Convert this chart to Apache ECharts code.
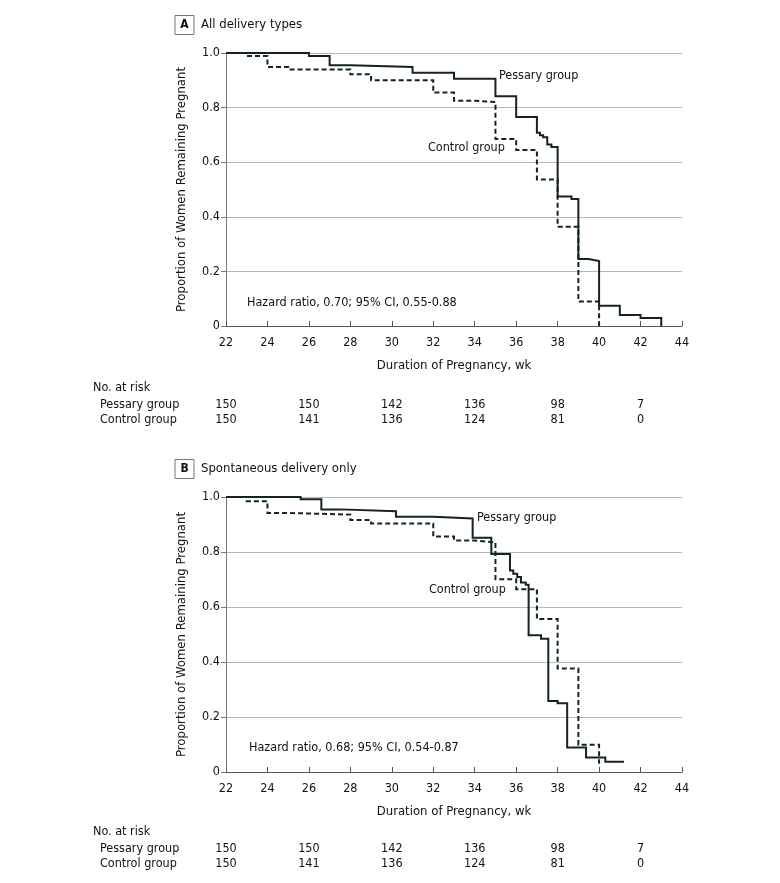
<!DOCTYPE html>
<html>
<head>
<meta charset="utf-8">
<script src="https://cdn.jsdelivr.net/npm/echarts@6/dist/echarts.min.js"></script>
<style>
html,body{margin:0;padding:0;background:#fff;}
#chart{width:780px;height:883px;}
</style>
</head>
<body>
<div id="chart"></div>
<script>
// ---- Data ----
const xTicks = [22,24,26,28,30,32,34,36,38,40,42,44];
const yTicks = [0,0.2,0.4,0.6,0.8,1.0];

// Panel A: All delivery types
const pessaryA_wk = [22,26,27,28,31,33,35,36,37,37.15,37.3,37.5,37.7,38,38.67,39,39.5,40,41,42,43];
const pessaryA_s  = [1,0.989,0.955,0.949,0.928,0.906,0.842,0.766,0.708,0.699,0.691,0.665,0.656,0.474,0.465,0.245,0.238,0.074,0.04,0.029,0];
const controlA_wk = [22,23,24,25,28,29,32,33,34,35,36,37,38,39,40];
const controlA_s  = [1,0.989,0.949,0.94,0.922,0.9,0.855,0.825,0.82,0.685,0.645,0.537,0.364,0.09,0];

// Panel B: Spontaneous delivery only
const pessaryB_wk = [22,25.6,26.6,27.5,30.2,32,33.9,34.8,35.7,35.86,36.05,36.23,36.46,36.6,37.2,37.55,38,38.46,39.37,40.3,41.2];
const pessaryB_s  = [1,0.992,0.955,0.948,0.928,0.922,0.852,0.793,0.733,0.721,0.709,0.689,0.681,0.497,0.485,0.258,0.25,0.089,0.053,0.037,0.037];
const controlB_wk = [22,23,24,25,28,29,32,33,34,35,36,37,38,39,40];
const controlB_s  = [1,0.985,0.942,0.936,0.916,0.904,0.856,0.842,0.835,0.701,0.665,0.556,0.376,0.099,0.03];

// Number at risk
const riskWeeks = [22,26,30,34,38,42];
const riskGroups = ['Pessary group','Control group'];
const pessaryRiskA = [150,150,142,136,98,7];
const controlRiskA = [150,141,136,124,81,0];
const pessaryRiskB = [150,150,142,136,98,7];
const controlRiskB = [150,141,136,124,81,0];

// ---- Styling ----
const FONT = "'Liberation Sans Narrow', 'DejaVu Sans Condensed', Roboto, sans-serif";
const TXT = '#111';
const LINE = '#142424';
const FS = 12.5;

// Kaplan-Meier steps: hold previous value until event time, then drop
function stepPairs(xs, ys){
  const out = [[xs[0], ys[0]]];
  for (let i = 1; i < xs.length; i++){
    out.push([xs[i], ys[i-1]]);
    out.push([xs[i], ys[i]]);
  }
  return out;
}

function plotX(gi){
  return {
    gridIndex: gi, type:'value', min:22, max:44, interval:2,
    name:'Duration of Pregnancy, wk', nameLocation:'middle', nameGap:33,
    nameTextStyle:{fontFamily:FONT, fontSize:13, color:TXT},
    axisLine:{show:true, lineStyle:{color:'#555', width:1}},
    axisTick:{show:true, inside:true, length:5, lineStyle:{color:'#555'}},
    axisLabel:{fontFamily:FONT, fontSize:FS, color:TXT, margin:10},
    splitLine:{show:false}
  };
}
function plotY(gi){
  return {
    gridIndex: gi, type:'value', min:0, max:1, interval:0.2,
    name:'Proportion of Women Remaining Pregnant', nameLocation:'middle', nameGap:38,
    nameTextStyle:{fontFamily:FONT, fontSize:13, color:TXT},
    axisLine:{show:true, lineStyle:{color:'#777', width:1}},
    axisTick:{show:true, inside:false, length:5, lineStyle:{color:'#777'}},
    axisLabel:{fontFamily:FONT, fontSize:FS, color:TXT, margin:6,
      formatter: v => v===0 ? '0' : v.toFixed(1)},
    splitLine:{show:true, lineStyle:{color:'#b8b8b8', width:1}}
  };
}
function riskX(gi){
  return {gridIndex:gi, type:'value', min:22, max:44, show:false};
}
function riskY(gi){
  return {
    gridIndex:gi, type:'category', data:riskGroups, inverse:true,
    axisLine:{show:false}, axisTick:{show:false}, splitLine:{show:false},
    axisLabel:{fontFamily:FONT, fontSize:FS, color:TXT, align:'left', margin:126,
      interval:0, hideOverlap:false}
  };
}
function kmSeries(name, xi, xs, ys, dashed){
  return {
    name, type:'line', xAxisIndex:xi, yAxisIndex:xi,
    data: stepPairs(xs, ys), showSymbol:false, symbol:'none', silent:true,
    lineStyle:{color:LINE, width:2, type: dashed ? [5,3] : 'solid', join:'miter', cap:'butt'},
    z: dashed ? 3 : 4
  };
}
function riskSeries(xi, pRisk, cRisk){
  const data = [];
  riskWeeks.forEach((w,i)=>{
    data.push({value:[w, riskGroups[0], pRisk[i]]});
    data.push({value:[w, riskGroups[1], cRisk[i]]});
  });
  return {
    type:'scatter', xAxisIndex:xi, yAxisIndex:xi, data, symbolSize:0, silent:true,
    itemStyle:{color:'#fff', opacity:1},
    labelLayout:{hideOverlap:false},
    label:{show:true, position:'inside', fontFamily:FONT, fontSize:FS, color:TXT,
      textBorderWidth:0, opacity:1,
      formatter: p => String(p.value[2])}
  };
}

function titleBox(y, letter, label){
  return [
    {type:'rect', shape:{x:175, y:y-9.5, width:19, height:19}, style:{fill:'#fff', stroke:'#777', lineWidth:1}},
    {type:'text', x:184.5, y:y, style:{text:letter, fontFamily:FONT, fontSize:12, fontWeight:'bold', fill:TXT, textAlign:'center', textVerticalAlign:'middle'}},
    {type:'text', x:201, y:y, style:{text:label, fontFamily:FONT, fontSize:13, fill:TXT, textVerticalAlign:'middle'}}
  ];
}
function anno(x, y, text){
  return {type:'text', x, y, style:{text, fontFamily:FONT, fontSize:FS, fill:TXT, textVerticalAlign:'middle'}};
}

const chart = echarts.init(document.getElementById('chart'), null, {renderer:'canvas'});
chart.setOption({
  backgroundColor:'#fff',
  animation:false,
  grid:[
    {left:226, top:53, width:456, height:273},
    {left:226, top:397.5, width:456, height:30},
    {left:226, top:497, width:456, height:275},
    {left:226, top:841.5, width:456, height:30}
  ],
  xAxis:[plotX(0), riskX(1), plotX(2), riskX(3)],
  yAxis:[plotY(0), riskY(1), plotY(2), riskY(3)],
  series:[
    kmSeries('Control group A', 0, controlA_wk, controlA_s, true),
    kmSeries('Pessary group A', 0, pessaryA_wk, pessaryA_s, false),
    riskSeries(1, pessaryRiskA, controlRiskA),
    kmSeries('Control group B', 2, controlB_wk, controlB_s, true),
    kmSeries('Pessary group B', 2, pessaryB_wk, pessaryB_s, false),
    riskSeries(3, pessaryRiskB, controlRiskB)
  ],
  graphic:[
    ...titleBox(25, 'A', 'All delivery types'),
    ...titleBox(469, 'B', 'Spontaneous delivery only'),
    anno(499, 76, 'Pessary group'),
    anno(428, 148, 'Control group'),
    anno(247, 303, 'Hazard ratio, 0.70; 95% CI, 0.55-0.88'),
    anno(477, 518, 'Pessary group'),
    anno(429, 590, 'Control group'),
    anno(249, 748, 'Hazard ratio, 0.68; 95% CI, 0.54-0.87'),
    anno(93, 388, 'No. at risk'),
    anno(93, 832, 'No. at risk')
  ]
});
</script>
</body>
</html>
